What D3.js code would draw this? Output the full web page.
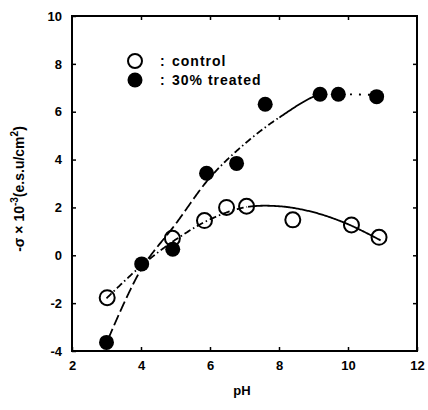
<!DOCTYPE html>
<html><head><meta charset="utf-8">
<script src="https://cdn.jsdelivr.net/npm/d3@7"></script>
<style>body{margin:0;background:#fff}svg{display:block}text{font-family:"Liberation Sans",Arial,sans-serif;font-weight:bold;fill:#000}</style>
</head><body><svg id="c" width="428" height="410"></svg>
<script>
// Data
const controlPH = [3.02, 4.91, 5.84, 6.48, 7.06, 8.40, 10.1, 10.9];
const controlVal = [-1.77, 0.71, 1.45, 2.0, 2.05, 1.48, 1.27, 0.75];
const treatedPH = [3.0, 4.02, 4.92, 5.9, 6.77, 7.6, 9.19, 9.72, 10.83];
const treatedVal = [-3.64, -0.36, 0.25, 3.43, 3.84, 6.31, 6.73, 6.73, 6.63];
// Fitted curves
const controlFitPH = [3.0, 4.0, 5.0, 6.0, 7.0, 8.0, 9.0, 10.0, 10.95];
const controlFitVal = [-1.8, -0.45, 0.65, 1.5, 2.0, 2.05, 1.8, 1.3, 0.62];
const treatedFitPH = [3.05, 4.0, 5.0, 6.0, 7.0, 8.0, 9.2, 10.0, 10.8];
const treatedFitVal = [-3.5, -0.6, 1.3, 3.25, 4.65, 5.75, 6.73, 6.73, 6.7];
const xTicks = [2, 4, 6, 8, 10, 12];
const yTicks = [-4, -2, 0, 2, 4, 6, 8, 10];
const legendLabels = ["control", "30% treated"];

const svg = d3.select("#c");
const L = 72, R = 417, T = 16, B = 351;
const x = d3.scaleLinear().domain([2, 12]).range([L, R]);
const y = d3.scaleLinear().domain([-4, 10]).range([B, T]);

// frame
svg.append("rect").attr("x", L).attr("y", T).attr("width", R - L).attr("height", B - T)
  .attr("fill", "none").attr("stroke", "#000").attr("stroke-width", 2);

// axes with inward ticks
const ax = (g, axis) => { g.call(axis); g.select(".domain").remove(); g.selectAll("line").attr("stroke-width", 1.5); };
svg.append("g").attr("transform", `translate(0,${B})`).call(g => ax(g, d3.axisBottom(x).tickValues(xTicks).tickSize(-4).tickPadding(10).tickFormat(d3.format("d"))))
  .selectAll("text").attr("font-size", 13).attr("font-weight", "bold");
svg.append("g").attr("transform", `translate(0,${T})`).call(g => ax(g, d3.axisTop(x).tickValues(xTicks.slice(1, -1)).tickSize(-4).tickFormat("")));
svg.append("g").attr("transform", `translate(${L},0)`).call(g => ax(g, d3.axisLeft(y).tickValues(yTicks).tickSize(-4).tickPadding(10).tickFormat(d => d < 0 ? "-" + Math.abs(d) : d)))
  .selectAll("text").attr("font-size", 13).attr("font-weight", "bold");
svg.append("g").attr("transform", `translate(${R},0)`).call(g => ax(g, d3.axisRight(y).tickValues(yTicks.slice(1, -1)).tickSize(-4).tickFormat("")));

// curves
const line = d3.line().x(d => x(d[0])).y(d => y(d[1])).curve(d3.curveCatmullRom.alpha(0.5));
function drawCurve(ph, val, segs) {
  const pts = ph.map((p, i) => [p, val[i]]);
  const path = svg.append("path").attr("d", line(pts)).attr("fill", "none").attr("stroke", "none");
  const node = path.node(), total = node.getTotalLength();
  const samples = d3.range(0, total, 1).map(l => ({ l, p: x.invert(node.getPointAtLength(l).x) }));
  segs.forEach(s => {
    const pts2 = samples.filter(d => d.p >= s.from && d.p <= s.to).map(d => node.getPointAtLength(d.l));
    svg.append("path").attr("d", d3.line().x(d => d.x).y(d => d.y)(pts2))
      .attr("fill", "none").attr("stroke", "#000").attr("stroke-width", 1.8)
      .attr("stroke-dasharray", s.dash);
  });
}
drawCurve(controlFitPH, controlFitVal, [{ from: 2, to: 7.1, dash: "7,3,1.5,3" }, { from: 7.1, to: 12, dash: null }]);
drawCurve(treatedFitPH, treatedFitVal, [{ from: 2, to: 6.1, dash: "11,4" }, { from: 6.1, to: 8, dash: "7,3,1.5,3" }, { from: 8, to: 9.25, dash: null }, { from: 9.25, to: 11, dash: "2,7" }]);

// points
svg.append("g").selectAll("circle").data(controlPH).join("circle")
  .attr("cx", d => x(d)).attr("cy", (d, i) => y(controlVal[i])).attr("r", 7.5)
  .attr("fill", "none").attr("stroke", "#000").attr("stroke-width", 2);
svg.append("g").selectAll("circle").data(treatedPH).join("circle")
  .attr("cx", d => x(d)).attr("cy", (d, i) => y(treatedVal[i])).attr("r", 7.5)
  .attr("fill", "#000");

// legend
const lg = svg.append("g");
lg.append("circle").attr("cx", 135).attr("cy", 61).attr("r", 7).attr("fill", "none").attr("stroke", "#000").attr("stroke-width", 2);
lg.append("circle").attr("cx", 135).attr("cy", 80).attr("r", 7.5).attr("fill", "#000");
legendLabels.forEach((t, i) => {
  lg.append("text").attr("x", 160).attr("y", 66 + i * 19).attr("font-size", 14).text(":");
  lg.append("text").attr("x", 172).attr("y", 66 + i * 19).attr("font-size", 14).attr("letter-spacing", 1).text(t);
});

// axis labels
svg.append("text").attr("x", 242).attr("y", 395).attr("text-anchor", "middle").attr("font-size", 13).text("pH");
const yl = svg.append("text").attr("transform", "translate(24,189) rotate(-90)").attr("text-anchor", "middle").attr("font-size", 14);
yl.append("tspan").text("-σ × 10");
yl.append("tspan").attr("dy", -6).attr("font-size", 10).text("-3");
yl.append("tspan").attr("dy", 6).text("(e.s.u/cm");
yl.append("tspan").attr("dy", -6).attr("font-size", 10).text("2");
yl.append("tspan").attr("dy", 6).text(")");
</script></body></html>
